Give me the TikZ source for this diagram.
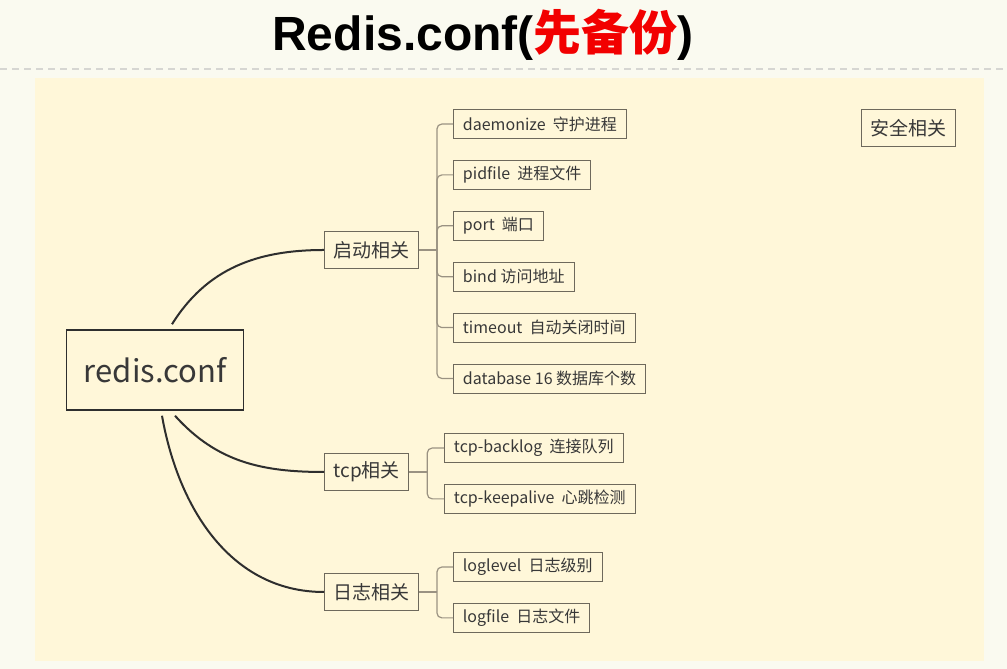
\documentclass[tikz,border=0pt]{standalone}
\usepackage{fontspec}
\setmainfont{Noto Sans CJK SC}
\newfontfamily\titlefont{Liberation Sans}
\newfontfamily\cjkfont{Noto Sans CJK SC}
\usetikzlibrary{positioning}
\definecolor{pagebg}{HTML}{FAFAF0}
\definecolor{panelbg}{HTML}{FFF7D9}
\definecolor{dashcol}{HTML}{D6D6D2}
\definecolor{rootline}{HTML}{2E2E2E}
\definecolor{boxline}{HTML}{6E695C}
\definecolor{branchline}{HTML}{9A9282}
\definecolor{textcol}{HTML}{383838}
\definecolor{titlered}{HTML}{F20000}

\begin{document}
\begin{tikzpicture}[x=1bp,y=1bp]
    \tikzset{
        root/.style={draw=rootline, line width=1.5bp, minimum width=177bp, minimum height=80bp, text=textcol, font=\fontsize{31bp}{36bp}\selectfont},
        topic/.style={draw=boxline, line width=0.9bp, minimum height=37bp, inner xsep=9bp, text=textcol, font=\fontsize{19bp}{22bp}\selectfont},
        leaf/.style={draw=boxline, line width=0.9bp, minimum height=29bp, inner xsep=9.5bp, text=textcol, font=\fontsize{16bp}{18bp}\selectfont, node distance=21bp},
        curve/.style={draw=rootline, line width=2bp},
        branch/.style={draw=branchline, line width=1.2bp, rounded corners=5bp},
        dashline/.style={draw=dashcol, line width=2bp, dash pattern=on 7bp off 5bp},
    };
    \fill [pagebg] (0,0) rectangle (1007,669);
    \useasboundingbox (0,0) rectangle (1007,669);
    \fill [panelbg] (35,8) rectangle (984,591);
    \path [dashline] (0,600) -- (1007,600);

    \node (title) at (483,634) {\fontsize{48bp}{54bp}\selectfont\titlefont\bfseries Redis.conf(\textcolor{titlered}{\cjkfont\bfseries 先备份})};

    \node [root] (conf) at (155,299) {redis.conf};

    \node [topic,anchor=west] (start) at (324,419) {启动相关};
    \node [topic,anchor=west] (tcp) at (324,197) {tcp相关};
    \node [topic,anchor=west] (log) at (324,77) {日志相关};
    \node [topic] (safe) at (908,541) {安全相关};

    \node [leaf,anchor=west] (daemon) at (453,545) {daemonize~ 守护进程};
    \node [leaf,below=of daemon.south west,anchor=north west] (pidfile) {pidfile~ 进程文件};
    \node [leaf,below=of pidfile.south west,anchor=north west] (port) {port~ 端口};
    \node [leaf,below=of port.south west,anchor=north west] (bind) {bind 访问地址};
    \node [leaf,below=of bind.south west,anchor=north west] (timeout) {timeout~ 自动关闭时间};
    \node [leaf,below=of timeout.south west,anchor=north west] (database) {database 16 数据库个数};

    \node [leaf,anchor=west] (backlog) at (444,221) {tcp-backlog~ 连接队列};
    \node [leaf,below=of backlog.south west,anchor=north west] (keepalive) {tcp-keepalive~ 心跳检测};

    \node [leaf,anchor=west] (loglevel) at (453,102) {loglevel~ 日志级别};
    \node [leaf,below=of loglevel.south west,anchor=north west] (logfile) {logfile~ 日志文件};

    \path [curve] ([xshift=17bp,yshift=5bp]conf.north) to[out=58,in=180] (start.west);
    \path [curve] ([xshift=20bp,yshift=-5bp]conf.south) to[out=-48,in=180] (tcp.west);
    \path [curve] ([xshift=7bp,yshift=-5bp]conf.south) to[out=-80,in=180] (log.west);

    \path [branch] (start.east) -- ++(18,0);
    \path [branch] ([xshift=18bp]start.east) |- (daemon.west);
    \path [branch] ([xshift=18bp]start.east) |- (pidfile.west);
    \path [branch] ([xshift=18bp]start.east) |- (port.west);
    \path [branch] ([xshift=18bp]start.east) |- (bind.west);
    \path [branch] ([xshift=18bp]start.east) |- (timeout.west);
    \path [branch] ([xshift=18bp]start.east) |- (database.west);

    \path [branch] (tcp.east) -- ++(18,0);
    \path [branch] ([xshift=18bp]tcp.east) |- (backlog.west);
    \path [branch] ([xshift=18bp]tcp.east) |- (keepalive.west);

    \path [branch] (log.east) -- ++(18,0);
    \path [branch] ([xshift=18bp]log.east) |- (loglevel.west);
    \path [branch] ([xshift=18bp]log.east) |- (logfile.west);
\end{tikzpicture}
\end{document}
